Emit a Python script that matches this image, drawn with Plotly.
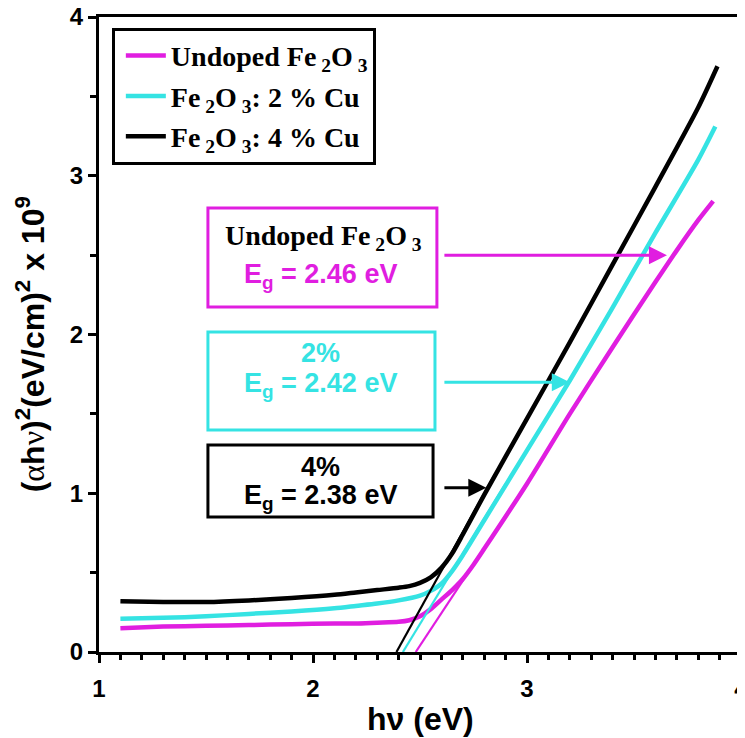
import plotly.graph_objects as go

# ---------------- data ----------------
hv_undoped = [1.10, 1.30, 1.50, 1.70, 1.90, 2.10, 2.20, 2.30, 2.40, 2.45, 2.50, 2.55,
              2.60, 2.65, 2.70, 2.75, 2.80, 3.00, 3.20, 3.40, 3.60, 3.70, 3.80, 3.87]
y_undoped = [0.15, 0.16, 0.165, 0.17, 0.175, 0.18, 0.18, 0.185, 0.19, 0.20, 0.225, 0.27,
             0.33, 0.39, 0.46, 0.55, 0.65, 1.06, 1.50, 1.92, 2.33, 2.53, 2.72, 2.84]

hv_cu2 = [1.10, 1.30, 1.50, 1.70, 1.90, 2.10, 2.20, 2.30, 2.40, 2.50, 2.55, 2.60,
          2.65, 2.70, 2.80, 3.00, 3.20, 3.40, 3.60, 3.80, 3.88]
y_cu2 = [0.21, 0.215, 0.225, 0.24, 0.255, 0.275, 0.29, 0.305, 0.325, 0.355, 0.385, 0.43,
         0.51, 0.61, 0.83, 1.27, 1.71, 2.17, 2.64, 3.10, 3.31]

hv_cu4 = [1.10, 1.30, 1.50, 1.70, 1.90, 2.10, 2.20, 2.30, 2.40, 2.45, 2.50, 2.55,
          2.60, 2.65, 2.70, 2.80, 3.00, 3.20, 3.40, 3.60, 3.80, 3.89]
y_cu4 = [0.32, 0.315, 0.315, 0.325, 0.34, 0.36, 0.375, 0.39, 0.405, 0.415, 0.435, 0.47,
         0.53, 0.62, 0.74, 0.99, 1.47, 1.95, 2.44, 2.93, 3.43, 3.69]

# linear extrapolation (Tauc) lines
tan_x_undoped = [2.48, 2.95]
tan_y_undoped = [0.0, 0.96]
tan_x_cu2 = [2.42, 2.90]
tan_y_cu2 = [0.0, 1.06]
tan_x_cu4 = [2.39, 2.85]
tan_y_cu4 = [0.0, 1.12]

series_names = ["Undoped Fe<sub> 2</sub>O<sub> 3</sub>",
                "Fe<sub> 2</sub>O<sub> 3</sub>: 2 % Cu",
                "Fe<sub> 2</sub>O<sub> 3</sub>: 4 % Cu"]
band_gaps = ["2.46", "2.42", "2.38"]
x_ticks = [1, 2, 3, 4]
y_ticks = [0, 1, 2, 3, 4]

MAG = "#E01EE0"
CYA = "#35E3E3"
BLK = "#000000"

SANS = "Liberation Sans, Arial, sans-serif"
SERIF = "Liberation Serif, Times New Roman, serif"
GREEK = "<span style='font-family:Liberation Serif;font-weight:normal'>{}</span>"

fig = go.Figure()

for name, xs, ys, col, grp in [(series_names[0], hv_undoped, y_undoped, MAG, "a"),
                               (series_names[1], hv_cu2, y_cu2, CYA, "b"),
                               (series_names[2], hv_cu4, y_cu4, BLK, "c")]:
    fig.add_trace(go.Scatter(x=xs, y=ys, mode="lines", name=name, legendgroup=grp,
                             line=dict(color=col, width=4.5, shape="spline", smoothing=0.7)))

for xs, ys, col in [(tan_x_cu4, tan_y_cu4, BLK), (tan_x_cu2, tan_y_cu2, CYA),
                    (tan_x_undoped, tan_y_undoped, MAG)]:
    fig.add_trace(go.Scatter(x=xs, y=ys, mode="lines", showlegend=False,
                             line=dict(color=col, width=2.2)))

# ---------------- annotation boxes ----------------
shapes = [
    dict(type="rect", xref="x", yref="y", x0=1.509, x1=2.579, y0=2.173, y1=2.797,
         line=dict(color=MAG, width=3), fillcolor="white", layer="above"),
    dict(type="rect", xref="x", yref="y", x0=1.509, x1=2.570, y0=1.398, y1=2.016,
         line=dict(color=CYA, width=3), fillcolor="white", layer="above"),
    dict(type="rect", xref="x", yref="y", x0=1.509, x1=2.561, y0=0.850, y1=1.304,
         line=dict(color=BLK, width=3), fillcolor="white", layer="above"),
]

annotations = [
    dict(x=2.047, y=2.614, xref="x", yref="y", showarrow=False,
         text="Undoped Fe<sub> 2</sub>O<sub> 3</sub>",
         font=dict(family=SERIF, size=28, color="black", weight="bold")),
    dict(x=2.033, y=2.369, xref="x", yref="y", showarrow=False,
         text="E<sub>g</sub> = " + band_gaps[0] + " eV",
         font=dict(family=SANS, size=27, color=MAG, weight="bold")),
    dict(x=2.037, y=1.883, xref="x", yref="y", showarrow=False, text="2%",
         font=dict(family=SANS, size=27, color=CYA, weight="bold")),
    dict(x=2.037, y=1.682, xref="x", yref="y", showarrow=False,
         text="E<sub>g</sub> = " + band_gaps[1] + " eV",
         font=dict(family=SANS, size=27, color=CYA, weight="bold")),
    dict(x=2.037, y=1.165, xref="x", yref="y", showarrow=False, text="4%",
         font=dict(family=SANS, size=27, color=BLK, weight="bold")),
    dict(x=2.037, y=0.976, xref="x", yref="y", showarrow=False,
         text="E<sub>g</sub> = " + band_gaps[2] + " eV",
         font=dict(family=SANS, size=27, color=BLK, weight="bold")),
    # arrows
    dict(x=3.654, y=2.50, ax=2.607, ay=2.50, xref="x", yref="y", axref="x", ayref="y",
         text="", showarrow=True, arrowhead=2, arrowsize=1.2, arrowwidth=3, arrowcolor=MAG),
    dict(x=3.20, y=1.70, ax=2.607, ay=1.70, xref="x", yref="y", axref="x", ayref="y",
         text="", showarrow=True, arrowhead=2, arrowsize=1.2, arrowwidth=3, arrowcolor=CYA),
    dict(x=2.81, y=1.035, ax=2.607, ay=1.035, xref="x", yref="y", axref="x", ayref="y",
         text="", showarrow=True, arrowhead=2, arrowsize=1.2, arrowwidth=3, arrowcolor=BLK),
    # axis titles
    dict(x=0.5, y=-0.1055, xref="paper", yref="paper", showarrow=False,
         xanchor="center", yanchor="middle", text="hν (eV)",
         font=dict(family=SANS, size=32, color="black", weight="bold")),
    dict(x=-0.107, y=0.485, xref="paper", yref="paper", showarrow=False,
         xanchor="center", yanchor="middle", textangle=-90,
         text="(" + GREEK.format("α") + "h" + GREEK.format("ν")
              + ")<sup>2</sup>(eV/cm)<sup>2</sup> x 10<sup>9</sup>",
         font=dict(family=SANS, size=32, color="black", weight="bold")),
]

# the page body adds an 8 px offset, so the figure is 8 px smaller and shifted
fig.update_layout(
    width=737, height=730,
    margin=dict(l=91, r=4, t=9, b=86),
    paper_bgcolor="white", plot_bgcolor="white",
    shapes=shapes, annotations=annotations,
    showlegend=True,
    legend=dict(x=0.02, y=0.983, xanchor="left", yanchor="top",
                bordercolor="black", borderwidth=3, bgcolor="white",
                font=dict(family=SERIF, size=28, color="black", weight="bold"),
                itemwidth=40, tracegroupgap=1, traceorder="grouped", indentation=6),
)

fig.update_xaxes(
    range=[1, 4], tickvals=x_ticks, ticktext=[str(t) for t in x_ticks],
    showline=True, linecolor="black", linewidth=3, mirror=True,
    ticks="outside", ticklen=8, tickwidth=3, tickcolor="black",
    minor=dict(dtick=0.1, ticks="outside", ticklen=5, tickwidth=3, tickcolor="black"),
    showgrid=False, zeroline=False, automargin=False, ticklabeloverflow="allow",
    ticklabelstandoff=5,
    tickfont=dict(family=SANS, size=24, color="black", weight="bold"),
)
fig.update_yaxes(
    range=[0, 4], tickvals=y_ticks, ticktext=[str(t) for t in y_ticks],
    showline=True, linecolor="black", linewidth=3, mirror=True,
    ticks="outside", ticklen=8, tickwidth=3, tickcolor="black",
    minor=dict(dtick=0.5, ticks="outside", ticklen=6, tickwidth=3, tickcolor="black"),
    showgrid=False, zeroline=False, automargin=False, ticklabeloverflow="allow",
    tickfont=dict(family=SANS, size=24, color="black", weight="bold"),
)

fig.write_html("out.html")
